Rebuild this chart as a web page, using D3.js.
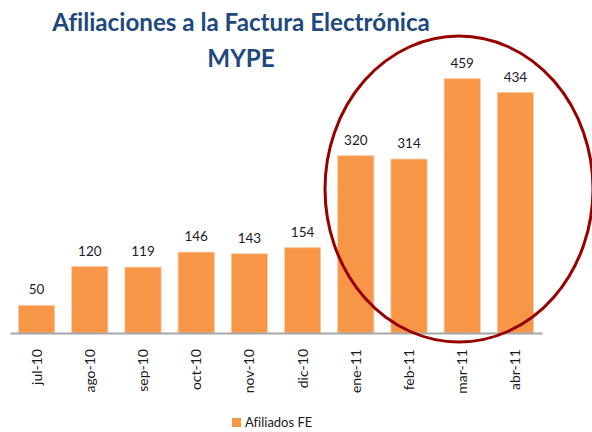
<!DOCTYPE html>
<html>
<head>
<meta charset="utf-8">
<script src="https://cdn.jsdelivr.net/npm/d3@7"></script>
<style>
  body { margin: 0; background: #fff; }
  svg { display: block; font-family: Lato, "Open Sans", sans-serif; font-variant-ligatures: none; }
</style>
</head>
<body>
<div class="container"></div>
<script>
// data
const months = ["jul-10", "ago-10", "sep-10", "oct-10", "nov-10", "dic-10", "ene-11", "feb-11", "mar-11", "abr-11"];
const afiliados = [50, 120, 119, 146, 143, 154, 320, 314, 459, 434];
const seriesName = "Afiliados FE";
const titleLines = ["Afiliaciones a la Factura Electrónica", "MYPE"];

const width = 592;
const height = 432;
const margin = { top: 56, bottom: 99, left: 10, right: 50 };

const svg = d3.select(".container")
  .append("svg")
  .attr("width", width)
  .attr("height", height);

// x scale for the month bars
const xScale = d3.scaleBand()
  .domain(months)
  .range([margin.left, width - margin.right])
  .paddingInner(0.32)
  .paddingOuter(0.16);

// y scale, 0 to 500 like the original value axis
const yScale = d3.scaleLinear()
  .domain([0, 500])
  .range([height - margin.bottom, margin.top]);

// title, two lines
const title = svg.append("g");
titleLines.forEach((t, i) => {
  title.append("text")
    .attr("x", 241)
    .attr("y", 31 + i * 36)
    .attr("text-anchor", "middle")
    .attr("font-size", "25px")
    .attr("font-weight", "bold")
    .attr("fill", "#1F497D")
    .text(t);
});
// squeeze the first line to the original width
const first = title.select("text").node();
const w = first.getComputedTextLength();
if (w > 0) {
  const fs = 25 * 378 / w;
  title.selectAll("text").attr("font-size", fs + "px");
}

// bars
svg.append("g")
  .selectAll("rect")
  .data(afiliados)
  .join("rect")
  .attr("x", (d, i) => xScale(months[i]))
  .attr("y", d => yScale(d))
  .attr("width", xScale.bandwidth())
  .attr("height", d => yScale(0) - yScale(d))
  .attr("fill", "#F79646")
  .attr("stroke", "#FBC9A3")
  .attr("stroke-width", 0.8);

// value labels
svg.append("g")
  .selectAll("text")
  .data(afiliados)
  .join("text")
  .attr("x", (d, i) => xScale(months[i]) + xScale.bandwidth() / 2)
  .attr("y", d => yScale(d) - 11)
  .attr("text-anchor", "middle")
  .attr("font-size", "13.5px")
  .attr("fill", "#1a1a2a")
  .text(d => d);

// x axis, rotated month labels
const xAxis = svg.append("g")
  .attr("transform", `translate(0, ${yScale(0)})`)
  .call(d3.axisBottom(xScale).tickSize(0).tickSizeOuter(0));
xAxis.select(".domain")
  .attr("stroke", "#A6A6A6")
  .attr("stroke-width", 2);
xAxis.selectAll("text")
  .attr("font-size", "14px")
  .attr("font-family", "Lato, 'Open Sans', sans-serif")
  .attr("fill", "#1a1a1a")
  .attr("text-anchor", "end")
  .attr("dy", "0.35em")
  .attr("transform", "translate(0, 16) rotate(-90)")
  .attr("x", 0)
  .attr("y", 0);

// legend
const legend = svg.append("g").attr("transform", "translate(232, 418)");
legend.append("rect")
  .attr("width", 9)
  .attr("height", 9)
  .attr("fill", "#F79646");
legend.append("text")
  .attr("x", 13)
  .attr("y", 9)
  .attr("font-size", "13px")
  .attr("fill", "#1a1a1a")
  .text(seriesName);

// red ellipse around the 2011 bars
svg.append("ellipse")
  .attr("cx", 459)
  .attr("cy", 189)
  .attr("rx", 134)
  .attr("ry", 153)
  .attr("fill", "none")
  .attr("stroke", "#980000")
  .attr("stroke-width", 3);
</script>
</body>
</html>
